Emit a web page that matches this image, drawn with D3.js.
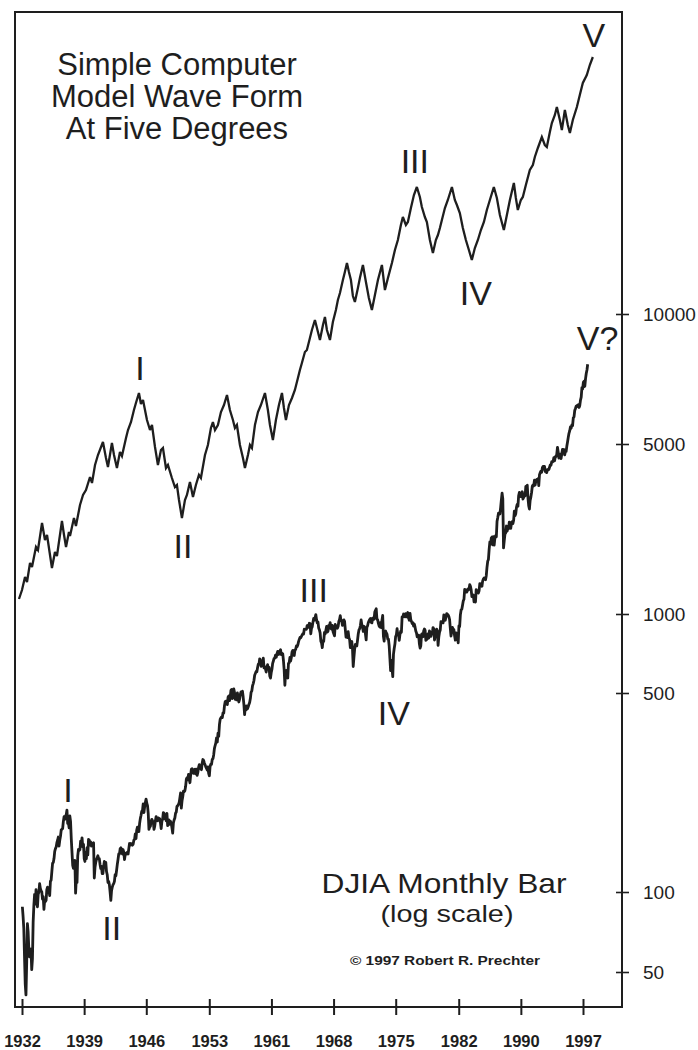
<!DOCTYPE html>
<html>
<head>
<meta charset="utf-8">
<script src="https://cdn.jsdelivr.net/npm/d3@7"></script>
<style>
  html, body { margin: 0; padding: 0; background: #fff; }
  svg { display: block; }
  text { font-family: "Liberation Sans", Arial, Helvetica, sans-serif; fill: #1e1e1e; }
</style>
</head>
<body>
<svg id="chart" width="698" height="1050"></svg>
<script>
// ---- Axis labels -------------------------------------------------------
const xTickLabels = ["1932", "1939", "1946", "1953", "1961", "1968", "1975", "1982", "1990", "1997"];
const xTickYears  = [1932, 1939.2, 1946.4, 1953.7, 1960.9, 1968.1, 1975.3, 1982.6, 1989.8, 1997];
const yTickValues = [50, 100, 500, 1000, 5000, 10000];

// ---- DJIA, one value per month, Jan 1932 .. Jul 1997 --------------------
const djiaFirstYear = 1932;
const djiaMonthly = [
  88, 81, 73, 57, 45, 41, 54, 76, 71, 61, 57, 60,
  61, 51, 56, 77, 89, 98, 90, 102, 94, 88, 98, 100,
  107, 103, 101, 100, 94, 96, 86, 93, 92, 93, 102, 104,
  101, 101, 97, 109, 110, 118, 126, 127, 131, 139, 142, 144,
  149, 152, 156, 145, 152, 157, 165, 166, 167, 177, 184, 180,
  185, 187, 194, 174, 175, 168, 185, 177, 154, 138, 124, 121,
  121, 129, 99, 112, 108, 134, 141, 140, 141, 151, 149, 155,
  144, 147, 131, 128, 138, 131, 143, 135, 153, 152, 146, 150,
  145, 146, 148, 149, 112, 122, 127, 130, 132, 134, 131, 131,
  125, 121, 123, 116, 116, 123, 128, 127, 127, 118, 115, 108,
  109, 106, 100, 93, 101, 104, 106, 107, 109, 115, 114, 119,
  125, 130, 136, 136, 142, 143, 139, 136, 141, 138, 130, 135,
  137, 136, 138, 136, 142, 148, 146, 148, 147, 146, 147, 152,
  153, 160, 154, 165, 169, 165, 163, 174, 181, 186, 192, 193,
  204, 190, 199, 206, 212, 205, 201, 189, 166, 169, 170, 177,
  180, 178, 177, 166, 170, 178, 184, 179, 178, 182, 180, 181,
  175, 167, 177, 180, 190, 189, 181, 181, 178, 189, 171, 177,
  179, 173, 177, 174, 168, 161, 175, 179, 182, 189, 191, 200,
  201, 203, 206, 214, 223, 197, 209, 216, 226, 225, 227, 235,
  249, 252, 248, 259, 250, 242, 258, 270, 271, 262, 261, 269,
  270, 260, 270, 257, 263, 274, 280, 275, 271, 269, 283, 292,
  290, 284, 280, 275, 272, 268, 275, 261, 256, 276, 281, 281,
  292, 294, 303, 319, 327, 334, 348, 336, 361, 352, 387, 404,
  409, 412, 410, 426, 425, 451, 466, 468, 467, 455, 483, 488,
  470, 484, 512, 516, 478, 493, 518, 502, 475, 480, 473, 500,
  479, 465, 475, 494, 505, 503, 508, 484, 456, 420, 450, 436,
  450, 440, 447, 456, 463, 478, 503, 509, 532, 543, 558, 584,
  594, 604, 602, 624, 644, 644, 675, 664, 632, 647, 659, 679,
  623, 630, 617, 601, 626, 641, 617, 626, 580, 570, 597, 616,
  648, 662, 677, 679, 697, 684, 705, 720, 701, 704, 722, 731,
  700, 708, 706, 665, 613, 535, 598, 609, 579, 570, 649, 652,
  683, 662, 683, 718, 727, 707, 695, 729, 733, 755, 751, 763,
  785, 800, 814, 811, 821, 832, 841, 839, 875, 873, 875, 874,
  903, 904, 889, 922, 918, 840, 882, 893, 931, 961, 947, 969,
  995, 952, 925, 933, 884, 870, 847, 788, 775, 744, 792, 786,
  850, 839, 866, 897, 853, 860, 905, 901, 927, 880, 875, 905,
  856, 841, 825, 912, 899, 898, 883, 896, 936, 953, 985, 944,
  946, 905, 936, 950, 937, 873, 816, 837, 813, 856, 812, 800,
  744, 778, 786, 736, 631, 684, 734, 765, 761, 756, 794, 839,
  869, 879, 904, 950, 908, 891, 858, 898, 887, 839, 797, 890,
  902, 928, 941, 954, 961, 929, 925, 964, 953, 956, 1018, 1036,
  1051, 955, 951, 921, 901, 892, 926, 888, 947, 987, 822, 788,
  856, 861, 847, 837, 802, 802, 757, 679, 608, 666, 619, 577,
  703, 739, 768, 821, 832, 879, 832, 835, 794, 836, 860, 852,
  975, 973, 1000, 997, 975, 1003, 985, 974, 1014, 965, 947, 1005,
  954, 937, 919, 927, 899, 916, 891, 862, 847, 818, 830, 831,
  770, 742, 757, 837, 841, 819, 862, 877, 866, 793, 799, 805,
  839, 809, 862, 854, 822, 842, 846, 888, 878, 796, 822, 839,
  876, 863, 759, 817, 851, 868, 935, 933, 932, 925, 993, 964,
  947, 975, 1004, 998, 992, 977, 953, 882, 824, 853, 889, 875,
  871, 824, 795, 848, 820, 812, 777, 901, 896, 992, 1039, 1047,
  1087, 1130, 1150, 1262, 1231, 1257, 1231, 1250, 1270, 1261, 1321, 1300,
  1257, 1179, 1191, 1197, 1121, 1152, 1120, 1260, 1240, 1240, 1219, 1246,
  1333, 1330, 1310, 1300, 1368, 1392, 1407, 1390, 1384, 1437, 1556, 1647,
  1676, 1844, 1981, 1937, 2053, 2073, 1926, 2080, 1918, 2054, 2100, 2078,
  2408, 2493, 2598, 2574, 2581, 2746, 2945, 3140, 2975, 1870, 2001, 2131,
  2155, 2300, 2193, 2248, 2246, 2388, 2372, 2248, 2352, 2398, 2354, 2423,
  2645, 2536, 2583, 2746, 2825, 2772, 3060, 3161, 3102, 3039, 3120, 3182,
  2969, 3016, 3121, 3056, 3346, 3351, 3384, 2998, 2789, 2700, 2929, 3024,
  3160, 3352, 3395, 3362, 3549, 3387, 3542, 3571, 3533, 3603, 3370, 3736,
  3811, 3868, 3825, 3994, 4046, 3940, 4042, 3856, 3877, 3813, 3920, 3915,
  3926, 4011, 4098, 4090, 4225, 4212, 4244, 4396, 4266, 4436, 4439, 4535,
  4845, 4641, 4371, 4426, 4543, 4357, 4552, 4754, 4658, 4748, 4513, 4646,
  4659, 4890, 5055, 5180, 5292, 5360, 5477, 5436, 5535, 5512, 5747, 5777,
  5978, 6042, 6113, 6101, 6154, 6162, 6074, 6134, 6319, 6421, 6754, 6705,
  6947, 6988, 6795, 7074, 7283, 7420, 7650
];

// ---- Model wave form: turning points (year, wave level) -----------------
const modelYears = [
  1931.65, 1932.00, 1932.35, 1932.58, 1932.93, 1933.16, 1933.62, 1933.85, 1934.32, 1934.66,
  1934.90, 1935.47, 1935.82, 1936.05, 1936.63, 1936.87, 1937.10, 1937.44, 1937.56, 1938.02,
  1938.25, 1938.72, 1939.07, 1939.41, 1939.88, 1940.11, 1940.46, 1940.80, 1941.38, 1941.73,
  1941.96, 1942.42, 1942.66, 1943.00, 1943.35, 1943.58, 1944.05, 1944.28, 1944.63, 1944.97,
  1945.20, 1945.55, 1945.78, 1946.02, 1946.48, 1946.83, 1947.06, 1947.41, 1947.75, 1948.10,
  1948.33, 1948.68, 1948.91, 1949.37, 1949.72, 1949.95, 1950.19, 1950.53, 1950.88, 1951.11,
  1951.46, 1951.81, 1952.15, 1952.50, 1952.73, 1953.20, 1953.54, 1953.89, 1954.12, 1954.36,
  1954.70, 1955.05, 1955.40, 1955.75, 1956.09, 1956.44, 1956.67, 1956.90, 1957.25, 1957.60,
  1957.83, 1958.18, 1958.41, 1958.64, 1958.99, 1959.34, 1959.68, 1960.15, 1960.49, 1960.73,
  1961.07, 1961.42, 1961.77, 1962.12, 1962.35, 1962.58, 1962.93, 1963.28, 1963.62, 1963.97,
  1964.20, 1964.43, 1964.78, 1965.01, 1965.36, 1965.59, 1965.94, 1966.29, 1966.52, 1966.87,
  1967.10, 1967.33, 1967.68, 1968.02, 1968.37, 1968.60, 1968.84, 1969.18, 1969.41, 1969.65,
  1969.88, 1970.11, 1970.34, 1970.57, 1970.92, 1971.15, 1971.50, 1971.85, 1972.19, 1972.54,
  1972.89, 1973.24, 1973.70, 1974.05, 1974.40, 1974.86, 1975.21, 1975.55, 1975.90, 1976.13,
  1976.48, 1976.71, 1977.06, 1977.41, 1977.75, 1978.10, 1978.33, 1978.68, 1978.91, 1979.26,
  1979.61, 1979.95, 1980.19, 1980.42, 1980.65, 1981.00, 1981.34, 1981.81, 1982.15, 1982.39,
  1982.73, 1983.08, 1983.43, 1983.78, 1984.12, 1984.47, 1984.82, 1985.17, 1985.52, 1985.86,
  1986.21, 1986.67, 1987.02, 1987.37, 1987.83, 1988.18, 1988.53, 1988.99, 1989.22, 1989.45,
  1989.80, 1990.03, 1990.38, 1990.84, 1991.19, 1991.42, 1991.77, 1992.23, 1992.58, 1992.81,
  1993.16, 1993.39, 1993.74, 1993.97, 1994.32, 1994.55, 1994.90, 1995.24, 1995.48, 1995.82,
  1996.29, 1996.63, 1996.98, 1997.44, 1997.79, 1998.14
];
const modelLevels = [
  2.2, 4.0, 6.6, 5.6, 9.4, 8.6, 12.6, 12.0, 17.4, 14.0,
  15.0, 8.4, 11.6, 10.8, 17.8, 15.0, 12.6, 15.6, 14.8, 18.4,
  16.8, 21.0, 23.0, 24.0, 26.6, 25.4, 29.0, 31.0, 33.6, 30.4,
  28.6, 33.4, 31.0, 28.4, 31.6, 30.8, 34.4, 36.0, 37.6, 40.0,
  41.4, 43.4, 41.2, 42.0, 38.0, 36.0, 37.0, 32.6, 29.0, 32.0,
  32.4, 28.4, 29.0, 26.4, 24.6, 25.0, 22.0, 18.4, 22.0, 23.0,
  25.6, 22.6, 25.0, 27.0, 26.4, 31.0, 33.0, 36.4, 37.6, 36.0,
  37.0, 39.6, 41.0, 43.0, 40.0, 38.0, 36.4, 37.0, 33.0, 30.4,
  28.4, 31.0, 33.0, 32.4, 37.0, 39.6, 41.0, 43.4, 40.0, 37.0,
  34.0, 38.0, 41.0, 43.4, 40.4, 38.0, 41.0, 42.4, 44.0, 46.4,
  48.0, 49.4, 51.6, 52.0, 54.4, 56.0, 58.0, 55.6, 54.0, 57.0,
  58.6, 56.0, 54.0, 57.6, 60.0, 62.0, 63.4, 66.0, 67.6, 69.4,
  67.6, 66.0, 62.8, 61.6, 64.4, 66.4, 69.0, 65.6, 62.4, 60.0,
  63.0, 66.0, 69.0, 64.0, 66.4, 69.4, 72.0, 74.0, 77.0, 78.6,
  77.0, 77.6, 80.4, 83.0, 84.6, 82.6, 80.6, 78.6, 77.6, 74.0,
  71.4, 74.0, 75.0, 76.4, 78.0, 80.4, 82.0, 84.6, 82.0, 81.0,
  79.4, 76.4, 74.0, 72.0, 70.0, 72.4, 74.0, 76.0, 77.6, 80.0,
  82.0, 84.6, 82.4, 79.0, 76.0, 79.0, 82.0, 85.4, 82.4, 80.0,
  82.0, 82.6, 85.0, 88.0, 89.0, 90.6, 92.4, 94.6, 93.0, 92.6,
  95.6, 97.4, 99.0, 100.6, 98.0, 96.0, 100.0, 97.0, 95.4, 98.0,
  100.6, 103.0, 105.4, 107.0, 109.0, 110.6
];

// ---- Wave count annotations --------------------------------------------
const modelWaveLabels = ["I", "II", "III", "IV", "V"];
const modelWaveYears  = [1945.55, 1950.53, 1977.75, 1984.12, 1998.14];
const modelWaveLevels = [43.4, 18.4, 84.6, 70.0, 110.6];

const djiaWaveLabels = ["I", "II", "III", "IV", "V?"];
const djiaWaveYears  = [1937.21, 1942.29, 1966.04, 1974.96, 1997.54];
const djiaWaveValues = [194, 93, 995, 577, 7650];

// ---- Layout ------------------------------------------------------------
const svg = d3.select("#chart");
const ink = "#1e1e1e";

const x = d3.scaleLinear().domain([1932, 1997]).range([22, 583]);
const y = d3.scaleLog().domain(yTickValues).range([972, 892, 693, 614, 444, 314]);
const yModel = d3.scaleLinear().domain([0, 110]).range([610, 60]);

const frame = { left: 15, top: 12, right: 622, bottom: 1007 };

// plot frame
svg.append("rect")
  .attr("x", frame.left).attr("y", frame.top)
  .attr("width", frame.right - frame.left)
  .attr("height", frame.bottom - frame.top)
  .attr("fill", "none").attr("stroke", ink).attr("stroke-width", 2);

// bottom axis: ticks straddle the frame line
const xAxis = d3.axisBottom(x)
  .tickValues(xTickYears)
  .tickFormat((d, i) => xTickLabels[i])
  .tickSize(8);
const gx = svg.append("g").attr("transform", `translate(0,${frame.bottom})`).call(xAxis);
gx.select(".domain").remove();
gx.selectAll(".tick line").attr("y1", -8).attr("y2", 8).attr("stroke", ink).attr("stroke-width", 2);
gx.selectAll(".tick text")
  .attr("y", 40).attr("dy", null)
  .style("font-size", "16.5px").style("font-weight", "bold")
  .attr("fill", ink);

// right axis (log scale)
const yAxis = d3.axisRight(y)
  .tickValues(yTickValues)
  .tickFormat(d3.format("d"))
  .tickSize(7);
const gy = svg.append("g").attr("transform", `translate(${frame.right},0)`).call(yAxis);
gy.select(".domain").remove();
gy.selectAll(".tick line").attr("x1", -6).attr("x2", 7).attr("stroke", ink).attr("stroke-width", 1.6);
gy.selectAll(".tick text")
  .attr("x", 21).attr("dy", "0.36em")
  .style("font-size", "19px")
  .attr("fill", ink);

// model wave form
const modelLine = d3.line()
  .x((d, i) => x(modelYears[i]))
  .y(d => yModel(d));
svg.append("path")
  .attr("d", modelLine(modelLevels))
  .attr("fill", "none")
  .attr("stroke", ink)
  .attr("stroke-width", 2.3)
  .attr("stroke-linejoin", "miter")
  .attr("stroke-miterlimit", 3);

// DJIA monthly
const djiaLine = d3.line()
  .x((d, i) => x(djiaFirstYear + (i + 0.5) / 12))
  .y(d => y(d));
svg.append("path")
  .attr("d", djiaLine(djiaMonthly))
  .attr("fill", "none")
  .attr("stroke", ink)
  .attr("stroke-width", 2.8)
  .attr("stroke-linejoin", "round");

// wave counts
const modelOffsets = [[1, -13], [1, 40], [-2, -14], [4, 45], [1, -10]];
svg.append("g").selectAll("text")
  .data(modelWaveLabels)
  .join("text")
  .attr("x", (d, i) => x(modelWaveYears[i]) + modelOffsets[i][0])
  .attr("y", (d, i) => yModel(modelWaveLevels[i]) + modelOffsets[i][1])
  .attr("text-anchor", "middle")
  .style("font-size", "34px")
  .text(d => d);

const djiaOffsets = [[1, -8], [1, 40], [-2, -13], [1, 48], [10, -14]];
svg.append("g").selectAll("text")
  .data(djiaWaveLabels)
  .join("text")
  .attr("x", (d, i) => x(djiaWaveYears[i]) + djiaOffsets[i][0])
  .attr("y", (d, i) => y(djiaWaveValues[i]) + djiaOffsets[i][1])
  .attr("text-anchor", "middle")
  .style("font-size", "34px")
  .text(d => d);

// titles
const titleLines = ["Simple Computer", "Model Wave Form", "At Five Degrees"];
svg.append("g").selectAll("text")
  .data(titleLines)
  .join("text")
  .attr("x", 177)
  .attr("y", (d, i) => 75 + i * 32)
  .attr("text-anchor", "middle")
  .style("font-size", "31px")
  .text(d => d);

svg.append("text")
  .attr("x", 444).attr("y", 893)
  .attr("text-anchor", "middle")
  .attr("textLength", 245).attr("lengthAdjust", "spacingAndGlyphs")
  .style("font-size", "28px")
  .text("DJIA Monthly Bar");

svg.append("text")
  .attr("x", 447).attr("y", 922)
  .attr("text-anchor", "middle")
  .attr("textLength", 133).attr("lengthAdjust", "spacingAndGlyphs")
  .style("font-size", "24px")
  .text("(log scale)");

svg.append("text")
  .attr("x", 445).attr("y", 965)
  .attr("text-anchor", "middle")
  .attr("textLength", 190).attr("lengthAdjust", "spacingAndGlyphs")
  .style("font-size", "13px").style("font-weight", "bold")
  .text("© 1997 Robert R. Prechter");
</script>
</body>
</html>
